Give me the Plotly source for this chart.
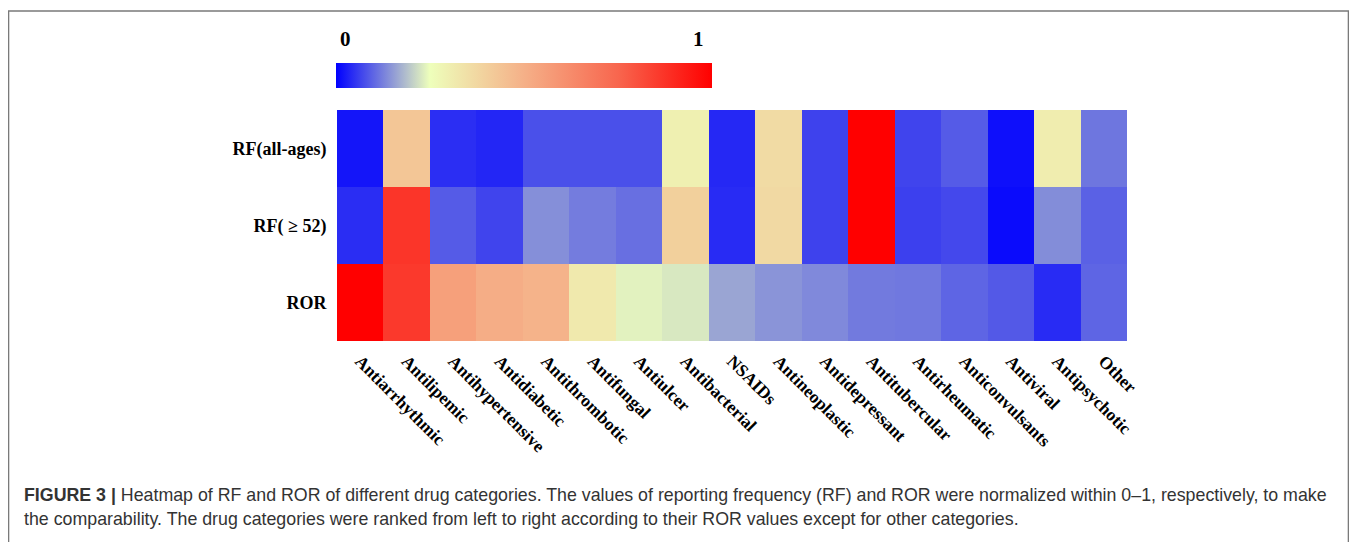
import plotly.graph_objects as go

categories = ["Antiarrhythmic", "Antilipemic", "Antihypertensive", "Antidiabetic",
              "Antithrombotic", "Antifungal", "Antiulcer", "Antibacterial", "NSAIDs",
              "Antineoplastic", "Antidepressant", "Antitubercular", "Antirheumatic",
              "Anticonvulsants", "Antiviral", "Antipsychotic", "Other"]
rows = ["RF(all-ages)", "RF( \u2265 52)", "ROR"]

rf_all = [0.021, 0.43, 0.045, 0.037, 0.078, 0.078, 0.078, 0.297, 0.039, 0.364,
          0.065, 1.0, 0.067, 0.089, 0.015, 0.307, 0.116]
rf_52 = [0.044, 0.87, 0.089, 0.067, 0.14, 0.122, 0.109, 0.40, 0.042, 0.37,
         0.065, 1.0, 0.063, 0.071, 0.011, 0.138, 0.095]
ror = [1.0, 0.86, 0.554, 0.51, 0.49, 0.32, 0.237, 0.227, 0.162, 0.145,
       0.134, 0.12, 0.118, 0.099, 0.087, 0.042, 0.099]

colorscale = [[0.0, "#0000ff"], [0.25, "#eeffbb"], [0.5, "#f5b088"],
              [0.75, "#f8664e"], [1.0, "#ff0000"]]

# page body has an 8px margin; reference pixel coords are shifted by OFF
OFF = 8
W, H = 1357 - OFF, 542 - OFF
L, R, T, B = 337 - OFF, 1127 - OFF, 110 - OFF, 341 - OFF

def px(x):
    return (x - OFF - L) / (R - L)

def py(y):
    return (B - (y - OFF)) / (B - T)

fig = go.Figure(go.Heatmap(
    z=[rf_all, rf_52, ror], x=categories, y=rows,
    zmin=0, zmax=1, colorscale=colorscale, xgap=0, ygap=0,
    colorbar=dict(orientation="h", x=px(336), xanchor="left", y=py(88), yanchor="bottom",
                  lenmode="pixels", len=376, thickness=25, xpad=0, ypad=0,
                  outlinewidth=0, showticklabels=False, ticks=""),
))

fig.update_layout(
    width=W, height=H, margin=dict(l=L, r=W - R, t=T, b=H - B),
    paper_bgcolor="white", plot_bgcolor="white",
    font=dict(family="Liberation Serif, Times New Roman, serif", color="black"),
    xaxis=dict(tickangle=45, tickfont=dict(size=17.5, family="Liberation Serif", weight="bold"),
               ticks="outside", ticklen=2, tickcolor="rgba(0,0,0,0)", showgrid=False),
    yaxis=dict(autorange="reversed", tickfont=dict(size=18, family="Liberation Serif", weight="bold"),
               ticks="outside", ticklen=6, tickcolor="rgba(0,0,0,0)", showgrid=False),
    shapes=[dict(type="rect", xref="paper", yref="paper",
                 x0=px(8.5), x1=px(1348.5), y0=py(580), y1=py(11),
                 line=dict(color="#7a7a7a", width=1.6), fillcolor="rgba(0,0,0,0)", layer="below")],
    annotations=[
        dict(text="0", x=px(345), y=py(39), xref="paper", yref="paper", showarrow=False,
             xanchor="center", yanchor="middle",
             font=dict(size=21, family="Liberation Serif", weight="bold")),
        dict(text="1", x=px(698), y=py(39), xref="paper", yref="paper", showarrow=False,
             xanchor="center", yanchor="middle",
             font=dict(size=21, family="Liberation Serif", weight="bold")),
        dict(text="<b>FIGURE 3 |</b> Heatmap of RF and ROR of different drug categories. The values of reporting frequency (RF) and ROR were normalized within 0\u20131, respectively, to make",
             x=px(22), y=py(495), xref="paper", yref="paper", xanchor="left", yanchor="middle",
             showarrow=False,
             font=dict(size=17.8, family="Liberation Sans, Arial", color="#333333")),
        dict(text="the comparability. The drug categories were ranked from left to right according to their ROR values except for other categories.",
             x=px(22), y=py(519), xref="paper", yref="paper", xanchor="left", yanchor="middle",
             showarrow=False,
             font=dict(size=17.8, family="Liberation Sans, Arial", color="#333333")),
    ],
)

fig.write_html("out.html")
